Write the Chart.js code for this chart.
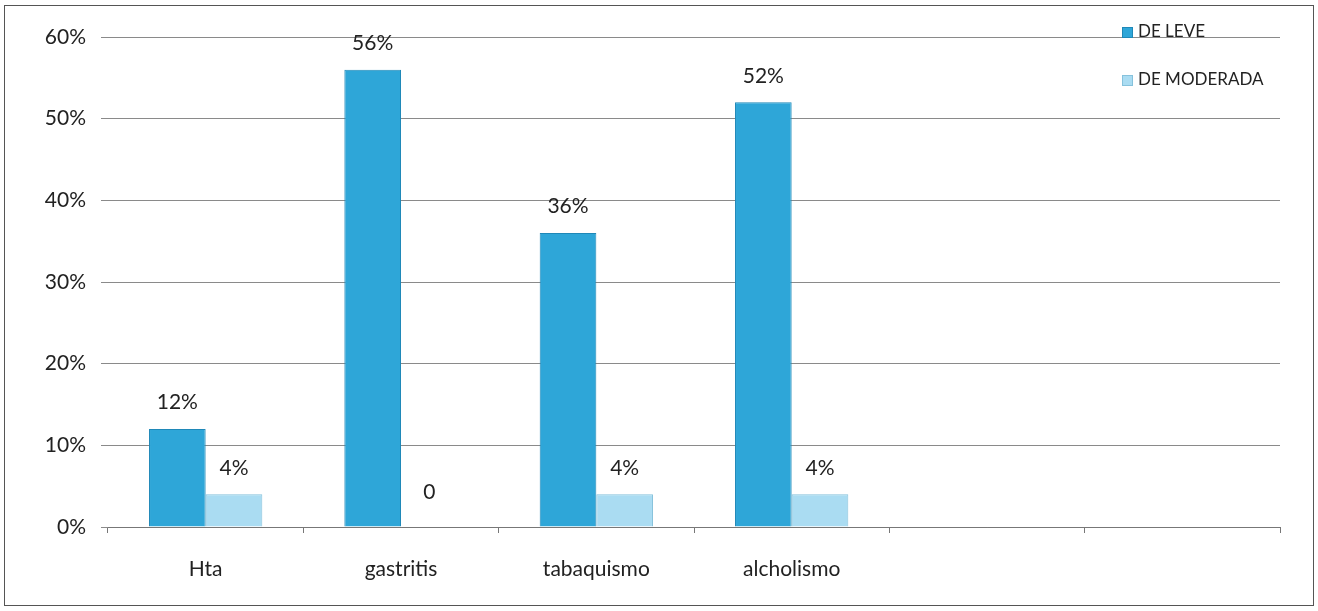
<!DOCTYPE html>
<html>
<head>
<meta charset="utf-8">
<script src="https://cdn.jsdelivr.net/npm/chart.js@4"></script>
<style>
  html, body { margin: 0; padding: 0; background: #fff; }
  #wrap { width: 1318px; height: 611px; position: relative; }
</style>
</head>
<body>
<div id="wrap"><canvas id="c" width="1318" height="611"></canvas></div>
<script>
const categories = ['Hta', 'gastritis', 'tabaquismo', 'alcholismo', '', ''];
const leveValues = [12, 56, 36, 52, null, null];
const moderadaValues = [4, 0, 4, 4, null, null];
const seriesNames = ['DE LEVE', 'DE MODERADA'];
const yTicks = [0, 10, 20, 30, 40, 50, 60];

const FONT = 'Lato, "Open Sans", sans-serif';

const valueLabels = {
  id: 'valueLabels',
  afterDatasetsDraw(chart) {
    const ctx = chart.ctx;
    ctx.save();
    ctx.font = '21px ' + FONT;
    ctx.fillStyle = '#222';
    ctx.textAlign = 'center';
    ctx.textBaseline = 'bottom';
    chart.data.datasets.forEach((ds, i) => {
      const meta = chart.getDatasetMeta(i);
      meta.data.forEach((bar, j) => {
        const v = ds.data[j];
        if (v === null || v === undefined) return;
        const txt = v === 0 ? '0' : v + '%';
        const off = v === 0 ? 24 : 16;
        ctx.fillText(txt, bar.x, bar.y - off);
      });
    });
    ctx.restore();
  }
};

const customLegend = {
  id: 'customLegend',
  afterDraw(chart) {
    const ctx = chart.ctx;
    ctx.save();
    ctx.font = '17px ' + FONT;
    ctx.textBaseline = 'middle';
    ctx.textAlign = 'left';
    chart.data.datasets.forEach((ds, i) => {
      const y = 32 + i * 48;
      ctx.fillStyle = ds.backgroundColor;
      ctx.fillRect(1122, y - 5, 11, 11);
      ctx.strokeStyle = ds.borderColor;
      ctx.lineWidth = 1;
      ctx.strokeRect(1122.5, y - 4.5, 10, 10);
      ctx.fillStyle = '#222';
      ctx.fillText(ds.label, 1138, y);
    });
    // outer frame
    ctx.strokeStyle = '#555';
    ctx.lineWidth = 1;
    ctx.strokeRect(4.5, 5.5, 1309, 600);
    ctx.restore();
  }
};

new Chart(document.getElementById('c'), {
  type: 'bar',
  data: {
    labels: categories,
    datasets: [
      { label: seriesNames[0], data: leveValues, backgroundColor: '#2ea6d8', borderColor: '#1f88b8', borderWidth: 1 },
      { label: seriesNames[1], data: moderadaValues, backgroundColor: '#aadcf2', borderColor: '#86c2dc', borderWidth: 1 }
    ]
  },
  options: {
    responsive: false,
    animation: false,
    layout: { padding: { left: 0, right: 38, top: 37, bottom: 0 } },
    datasets: { bar: { categoryPercentage: 0.58, barPercentage: 1.0 } },
    plugins: { legend: { display: false }, tooltip: { enabled: false } },
    scales: {
      x: {
        grid: { display: true, drawOnChartArea: false, drawTicks: true, tickLength: 6, offset: true, color: '#777' },
        border: { display: true, color: '#777' },
        ticks: { font: { family: FONT, size: 21 }, color: '#222', padding: 24, maxRotation: 0 },
        afterFit(scale) { scale.height = 84; }
      },
      y: {
        min: 0, max: 60,
        afterBuildTicks(scale) { scale.ticks = yTicks.map(v => ({ value: v })); },
        grid: { color: '#8a8a8a', lineWidth: 1, drawTicks: true, tickLength: 7 },
        border: { display: false },
        ticks: { font: { family: FONT, size: 21 }, color: '#222', padding: 15, callback: v => v + '%' },
        afterFit(scale) { scale.width = 108; }
      }
    }
  },
  plugins: [valueLabels, customLegend]
});
</script>
</body>
</html>
